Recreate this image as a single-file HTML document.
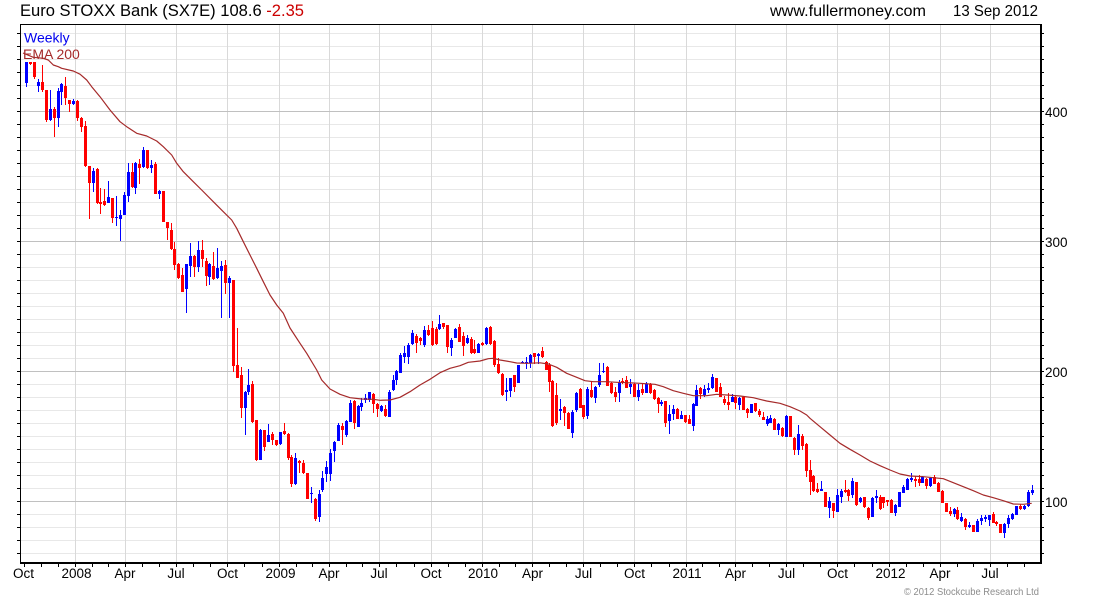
<!DOCTYPE html>
<html><head><meta charset="utf-8"><style>
html,body{margin:0;padding:0;background:#fff;}
svg{display:block;}
text{font-family:"Liberation Sans",Arial,sans-serif;}
</style></head><body>
<svg width="1100" height="600" viewBox="0 0 1100 600" xmlns="http://www.w3.org/2000/svg">
<rect x="0" y="0" width="1100" height="600" fill="#fff"/>
<!-- minor horizontal grid -->
<path fill="none" stroke="#e8e8e8" stroke-width="1" d="M20 553.5H1041M20 540.5H1041M20 527.5H1041M20 514.5H1041M20 488.5H1041M20 475.5H1041M20 462.5H1041M20 449.5H1041M20 436.5H1041M20 423.5H1041M20 410.5H1041M20 397.5H1041M20 384.5H1041M20 358.5H1041M20 345.5H1041M20 332.5H1041M20 319.5H1041M20 306.5H1041M20 293.5H1041M20 280.5H1041M20 267.5H1041M20 254.5H1041M20 228.5H1041M20 215.5H1041M20 202.5H1041M20 189.5H1041M20 176.5H1041M20 163.5H1041M20 150.5H1041M20 137.5H1041M20 124.5H1041M20 98.5H1041M20 85.5H1041M20 72.5H1041M20 59.5H1041M20 46.5H1041M20 33.5H1041"/>
<!-- vertical grid -->
<path fill="none" stroke="#d9d9d9" stroke-width="1" d="M75.5 24V563M125.5 24V563M176.5 24V563M227.5 24V563M279.5 24V563M329.5 24V563M379.5 24V563M431.5 24V563M482.5 24V563M532.5 24V563M583.5 24V563M634.5 24V563M686.5 24V563M735.5 24V563M786.5 24V563M837.5 24V563M889.5 24V563M940.5 24V563M990.5 24V563"/>
<!-- major horizontal grid -->
<path fill="none" stroke="#c0c0c0" stroke-width="1" d="M20 501.5H1041M20 371.5H1041M20 241.5H1041M20 111.5H1041"/>

<!-- candles -->
<path fill="#0000ff" d="M25 62h3v21h-3zM26 62h1v25h-1zM37 82h3v4h-3zM38 79h1v13h-1zM49 109h3v11h-3zM50 90h1v31h-1zM57 91h3v27h-3zM58 88h1v39h-1zM60 84h3v8h-3zM61 83h1v22h-1zM72 101h3v3h-3zM73 99h1v6h-1zM92 171h3v12h-3zM93 168h1v24h-1zM107 197h3v6h-3zM108 181h1v22h-1zM115 217h3v1h-3zM116 196h1v30h-1zM119 215h3v4h-3zM120 210h1v31h-1zM123 195h3v20h-3zM124 192h1v23h-1zM127 172h3v24h-3zM128 163h1v39h-1zM134 163h3v25h-3zM135 162h1v32h-1zM142 150h3v17h-3zM143 147h1v21h-1zM150 165h3v3h-3zM151 160h1v13h-1zM158 191h3v3h-3zM159 190h1v9h-1zM185 264h3v25h-3zM186 264h1v49h-1zM189 256h3v10h-3zM190 243h1v34h-1zM197 250h3v17h-3zM198 241h1v31h-1zM208 264h3v13h-3zM209 263h1v22h-1zM216 268h3v10h-3zM217 248h1v31h-1zM220 266h3v5h-3zM221 261h1v57h-1zM228 278h3v5h-3zM229 276h1v42h-1zM244 392h3v16h-3zM245 391h1v44h-1zM247 385h3v7h-3zM248 369h1v26h-1zM259 430h3v30h-3zM260 429h1v31h-1zM267 435h3v7h-3zM268 424h1v18h-1zM279 432h3v12h-3zM280 432h1v13h-1zM294 458h3v26h-3zM295 453h1v32h-1zM310 493h3v1h-3zM311 487h1v16h-1zM318 494h3v23h-3zM319 490h1v32h-1zM321 478h3v12h-3zM322 471h1v21h-1zM325 467h3v7h-3zM326 461h1v21h-1zM329 453h3v21h-3zM330 449h1v32h-1zM333 442h3v9h-3zM334 441h1v21h-1zM337 425h3v16h-3zM338 423h1v18h-1zM345 421h3v14h-3zM346 420h1v17h-1zM349 403h3v19h-3zM350 400h1v22h-1zM357 406h3v21h-3zM358 405h1v22h-1zM360 403h3v4h-3zM361 398h1v13h-1zM364 398h3v2h-3zM365 394h1v9h-1zM368 392h3v8h-3zM369 392h1v10h-1zM380 406h3v5h-3zM381 405h1v7h-1zM388 392h3v25h-3zM389 390h1v27h-1zM392 380h3v10h-3zM393 375h1v16h-1zM395 371h3v9h-3zM396 370h1v15h-1zM399 355h3v18h-3zM400 353h1v20h-1zM403 353h3v4h-3zM404 346h1v17h-1zM407 345h3v12h-3zM408 343h1v21h-1zM411 333h3v11h-3zM412 330h1v15h-1zM423 330h3v15h-3zM424 326h1v21h-1zM438 324h3v5h-3zM439 315h1v15h-1zM450 340h3v8h-3zM451 338h1v18h-1zM454 329h3v9h-3zM455 328h1v10h-1zM466 338h3v5h-3zM467 335h1v9h-1zM477 344h3v9h-3zM478 343h1v10h-1zM485 328h3v16h-3zM486 327h1v18h-1zM505 390h3v2h-3zM506 378h1v23h-1zM509 378h3v13h-3zM510 378h1v19h-1zM517 365h3v18h-3zM521 362h3v1h-3zM522 361h1v2h-1zM525 362h3v1h-3zM526 357h1v12h-1zM529 355h3v8h-3zM530 354h1v14h-1zM537 354h3v2h-3zM538 353h1v11h-1zM559 409h3v2h-3zM560 399h1v21h-1zM571 412h3v21h-3zM572 410h1v28h-1zM575 393h3v17h-3zM576 392h1v20h-1zM586 389h3v27h-3zM587 387h1v32h-1zM594 387h3v11h-3zM595 386h1v17h-1zM598 375h3v10h-3zM599 363h1v24h-1zM602 371h3v1h-3zM603 363h1v10h-1zM618 382h3v11h-3zM619 380h1v22h-1zM629 384h3v3h-3zM630 379h1v15h-1zM637 390h3v7h-3zM638 384h1v17h-1zM645 384h3v9h-3zM646 382h1v11h-1zM660 402h3v2h-3zM661 400h1v6h-1zM668 414h3v7h-3zM669 405h1v29h-1zM672 409h3v5h-3zM673 405h1v15h-1zM680 415h3v4h-3zM681 411h1v8h-1zM692 404h3v22h-3zM693 403h1v28h-1zM695 390h3v16h-3zM696 385h1v21h-1zM703 389h3v6h-3zM704 385h1v12h-1zM707 388h3v2h-3zM708 383h1v10h-1zM711 377h3v11h-3zM712 374h1v15h-1zM731 397h3v5h-3zM732 394h1v8h-1zM738 398h3v7h-3zM739 397h1v13h-1zM750 404h3v9h-3zM766 419h3v5h-3zM767 416h1v10h-1zM769 418h3v5h-3zM770 415h1v8h-1zM777 424h3v6h-3zM778 423h1v12h-1zM785 416h3v21h-3zM786 415h1v22h-1zM797 434h3v16h-3zM798 425h1v30h-1zM820 489h3v2h-3zM821 481h1v10h-1zM828 501h3v7h-3zM829 497h1v21h-1zM836 495h3v17h-3zM837 489h1v23h-1zM840 491h3v6h-3zM841 489h1v14h-1zM851 481h3v14h-3zM852 478h1v20h-1zM859 498h3v4h-3zM860 497h1v6h-1zM871 498h3v19h-3zM872 497h1v20h-1zM875 496h3v2h-3zM876 490h1v13h-1zM894 505h3v8h-3zM895 504h1v12h-1zM898 492h3v15h-3zM902 487h3v6h-3zM903 485h1v8h-1zM906 479h3v11h-3zM907 478h1v12h-1zM910 478h3v2h-3zM911 473h1v9h-1zM921 477h3v6h-3zM922 476h1v7h-1zM929 478h3v8h-3zM930 477h1v10h-1zM953 509h3v5h-3zM954 508h1v9h-1zM960 517h3v4h-3zM961 513h1v9h-1zM968 525h3v2h-3zM969 522h1v6h-1zM976 521h3v11h-3zM977 519h1v13h-1zM980 518h3v3h-3zM981 515h1v10h-1zM984 517h3v2h-3zM985 515h1v7h-1zM988 515h3v5h-3zM989 515h1v11h-1zM1003 524h3v9h-3zM1004 523h1v15h-1zM1007 518h3v6h-3zM1008 515h1v13h-1zM1011 514h3v5h-3zM1012 513h1v7h-1zM1015 506h3v9h-3zM1023 506h3v3h-3zM1024 505h1v5h-1zM1027 492h3v14h-3zM1028 490h1v17h-1zM1031 490h3v3h-3zM1032 485h1v10h-1z"/>
<path fill="#ff0000" d="M29 62h3v2h-3zM30 62h1v3h-1zM33 62h3v15h-3zM34 62h1v17h-1zM41 82h3v8h-3zM42 65h1v27h-1zM45 90h3v30h-3zM46 90h1v32h-1zM53 109h3v9h-3zM54 107h1v30h-1zM64 86h3v12h-3zM65 77h1v28h-1zM68 100h3v4h-3zM69 100h1v12h-1zM76 101h3v17h-3zM77 100h1v21h-1zM80 118h3v9h-3zM81 117h1v15h-1zM84 126h3v40h-3zM85 121h1v46h-1zM88 166h3v17h-3zM89 166h1v53h-1zM96 169h3v34h-3zM97 168h1v36h-1zM99 202h3v2h-3zM100 188h1v26h-1zM103 201h3v4h-3zM104 189h1v17h-1zM111 198h3v20h-3zM112 198h1v25h-1zM131 172h3v15h-3zM132 163h1v25h-1zM138 164h3v4h-3zM139 159h1v25h-1zM146 150h3v18h-3zM147 150h1v19h-1zM154 164h3v30h-3zM155 162h1v32h-1zM162 191h3v31h-3zM166 222h3v6h-3zM167 222h1v18h-1zM170 230h3v19h-3zM171 223h1v27h-1zM173 249h3v16h-3zM174 242h1v28h-1zM177 264h3v14h-3zM178 263h1v16h-1zM181 275h3v17h-3zM182 268h1v24h-1zM193 256h3v11h-3zM194 255h1v22h-1zM201 250h3v9h-3zM202 240h1v27h-1zM205 261h3v15h-3zM206 258h1v28h-1zM212 266h3v13h-3zM213 252h1v28h-1zM224 265h3v18h-3zM225 260h1v34h-1zM232 280h3v86h-3zM233 280h1v92h-1zM236 365h3v13h-3zM237 328h1v50h-1zM240 375h3v33h-3zM241 367h1v51h-1zM251 384h3v38h-3zM252 381h1v42h-1zM255 420h3v40h-3zM256 420h1v41h-1zM263 430h3v17h-3zM264 430h1v21h-1zM271 434h3v6h-3zM272 432h1v13h-1zM275 440h3v5h-3zM276 440h1v6h-1zM283 431h3v3h-3zM284 423h1v12h-1zM287 434h3v24h-3zM288 433h1v27h-1zM290 457h3v27h-3zM291 455h1v32h-1zM298 461h3v2h-3zM299 460h1v13h-1zM302 463h3v10h-3zM303 460h1v14h-1zM306 473h3v26h-3zM314 499h3v20h-3zM315 498h1v23h-1zM341 426h3v4h-3zM342 423h1v22h-1zM353 401h3v22h-3zM354 400h1v29h-1zM372 394h3v10h-3zM373 393h1v20h-1zM376 404h3v5h-3zM377 403h1v14h-1zM384 409h3v7h-3zM385 405h1v12h-1zM415 336h3v7h-3zM416 334h1v19h-1zM419 338h3v3h-3zM420 337h1v8h-1zM427 330h3v5h-3zM428 325h1v11h-1zM431 328h3v17h-3zM432 321h1v25h-1zM435 329h3v15h-3zM436 327h1v18h-1zM442 323h3v4h-3zM443 323h1v6h-1zM446 325h3v22h-3zM447 325h1v28h-1zM458 327h3v15h-3zM459 324h1v18h-1zM462 336h3v10h-3zM463 332h1v24h-1zM470 339h3v14h-3zM471 337h1v17h-1zM473 349h3v4h-3zM474 340h1v14h-1zM481 343h3v2h-3zM482 342h1v4h-1zM489 327h3v17h-3zM490 326h1v19h-1zM493 341h3v24h-3zM494 340h1v27h-1zM497 364h3v9h-3zM498 358h1v16h-1zM501 374h3v21h-3zM502 373h1v23h-1zM513 375h3v12h-3zM514 375h1v17h-1zM533 353h3v4h-3zM534 353h1v11h-1zM541 351h3v6h-3zM542 347h1v11h-1zM545 362h3v8h-3zM546 361h1v9h-1zM548 365h3v17h-3zM549 363h1v29h-1zM551 381h3v45h-3zM552 380h1v47h-1zM555 395h3v28h-3zM556 383h1v42h-1zM563 407h3v6h-3zM564 406h1v20h-1zM567 413h3v16h-3zM568 412h1v17h-1zM579 389h3v19h-3zM580 388h1v20h-1zM582 405h3v12h-3zM583 405h1v14h-1zM590 390h3v7h-3zM591 382h1v16h-1zM606 367h3v19h-3zM607 366h1v20h-1zM610 383h3v10h-3zM611 382h1v12h-1zM614 392h3v5h-3zM615 387h1v15h-1zM621 381h3v2h-3zM622 378h1v6h-1zM625 380h3v8h-3zM626 376h1v12h-1zM633 384h3v13h-3zM634 383h1v14h-1zM641 389h3v4h-3zM642 384h1v11h-1zM649 384h3v9h-3zM650 383h1v11h-1zM653 390h3v9h-3zM654 389h1v11h-1zM657 398h3v6h-3zM658 397h1v16h-1zM664 401h3v22h-3zM665 401h1v26h-1zM676 409h3v10h-3zM677 408h1v11h-1zM684 415h3v7h-3zM685 415h1v8h-1zM688 419h3v5h-3zM689 415h1v9h-1zM699 388h3v6h-3zM700 387h1v12h-1zM715 378h3v14h-3zM719 387h3v10h-3zM720 383h1v14h-1zM723 399h3v4h-3zM724 396h1v9h-1zM727 402h3v3h-3zM728 393h1v17h-1zM734 397h3v6h-3zM735 395h1v14h-1zM742 397h3v13h-3zM743 396h1v14h-1zM746 409h3v4h-3zM747 408h1v10h-1zM754 403h3v8h-3zM755 403h1v9h-1zM758 411h3v4h-3zM759 409h1v8h-1zM762 417h3v3h-3zM763 412h1v8h-1zM773 419h3v11h-3zM774 418h1v12h-1zM781 428h3v8h-3zM782 427h1v10h-1zM789 416h3v21h-3zM793 438h3v12h-3zM794 437h1v18h-1zM801 436h3v10h-3zM802 434h1v16h-1zM805 444h3v27h-3zM806 443h1v34h-1zM809 470h3v12h-3zM810 460h1v35h-1zM812 476h3v15h-3zM813 475h1v17h-1zM816 489h3v3h-3zM817 483h1v10h-1zM824 492h3v15h-3zM832 503h3v8h-3zM833 503h1v15h-1zM844 490h3v2h-3zM845 480h1v13h-1zM847 490h3v6h-3zM848 489h1v12h-1zM855 482h3v23h-3zM856 482h1v24h-1zM863 497h3v10h-3zM864 497h1v11h-1zM867 508h3v10h-3zM868 507h1v13h-1zM879 497h3v12h-3zM880 495h1v15h-1zM882 497h3v6h-3zM883 497h1v11h-1zM886 500h3v2h-3zM887 500h1v6h-1zM890 500h3v13h-3zM891 499h1v14h-1zM914 479h3v2h-3zM915 476h1v11h-1zM918 479h3v4h-3zM919 475h1v11h-1zM925 479h3v7h-3zM926 478h1v11h-1zM933 477h3v7h-3zM934 475h1v9h-1zM937 483h3v9h-3zM938 482h1v10h-1zM941 491h3v12h-3zM942 490h1v13h-1zM945 503h3v9h-3zM949 511h3v3h-3zM950 507h1v9h-1zM956 510h3v9h-3zM957 507h1v13h-1zM964 519h3v8h-3zM965 518h1v12h-1zM972 525h3v7h-3zM992 514h3v9h-3zM993 512h1v11h-1zM995 522h3v2h-3zM996 521h1v5h-1zM999 524h3v9h-3zM1019 506h3v3h-3zM1020 504h1v6h-1z"/>

<!-- EMA 200 -->
<polyline fill="none" stroke="#a52a2a" stroke-width="1.2" stroke-linejoin="round" points="23,53 33.3,57.3 43.3,58.3 48.3,60 53.3,65 58.3,66.7 61.7,68.3 73.3,71 80,74.2 86.7,80 91.7,86.7 100,96.7 110,110 120,121.7 126.7,126.7 136.7,133.3 146.7,136 156.7,141 163.3,146.7 171.7,155 176.7,163.3 183.3,171.7 193.3,181.7 201.7,190 213.3,201.7 223.3,211.7 231.7,220 236.7,228.3 243.3,241.7 250,255 256.7,268.3 263.3,281.7 270,295 276.7,305 283.3,313.3 290,328 300,343.3 306.7,353.3 316.7,370 321.7,380 330,389 340,394.3 350,397.7 361.7,399 373.3,399.3 380,400.3 390,400 400,397.3 410,391.7 420,385 430,379.3 440,372.7 450,368.3 460,365.7 468.3,362.3 480,361 488.3,358.7 493.3,358.3 500,360 510,361.7 516.7,363 526.7,363.3 540,362.8 548.3,364 556.7,367.3 566.7,373.3 576.7,377.3 585,380.7 593.3,381.7 606.7,381.7 616.7,382.3 626.7,382.7 640,383.3 655,384.3 663.3,386.7 673.3,390.7 683.3,393.3 693.3,395.7 706.7,395.7 716.7,394.3 726.7,395 740,396 753.3,397.7 766.7,401 780,403.3 790,406.7 800,411 806.7,415 810,418.3 820,426.7 830,435 840,443.3 850,449.3 860,455 870,461 880,465.7 890,470 900,474 910,476 923.3,476.7 933.3,477.7 943.3,478.7 953.3,482.7 963.3,486.7 973.3,490.7 983.3,495 993.3,497.7 1003.3,500.7 1013.3,504 1023.3,504.3 1031.7,503.3"/>

<!-- frame -->
<path fill="none" stroke="#000" stroke-width="1" d="M20 24.5H1041M20.5 24V564"/>
<path fill="none" stroke="#000" stroke-width="2" d="M20 563H1042M1041 24V564"/>
<!-- y ticks left & right -->
<path fill="none" stroke="#000" stroke-width="1" d="M17 553.5h3M17 540.5h3M17 527.5h3M17 514.5h3M17 501.5h3M17 488.5h3M17 475.5h3M17 462.5h3M17 449.5h3M17 436.5h3M17 423.5h3M17 410.5h3M17 397.5h3M17 384.5h3M17 371.5h3M17 358.5h3M17 345.5h3M17 332.5h3M17 319.5h3M17 306.5h3M17 293.5h3M17 280.5h3M17 267.5h3M17 254.5h3M17 241.5h3M17 228.5h3M17 215.5h3M17 202.5h3M17 189.5h3M17 176.5h3M17 163.5h3M17 150.5h3M17 137.5h3M17 124.5h3M17 111.5h3M17 98.5h3M17 85.5h3M17 72.5h3M17 59.5h3M17 46.5h3M17 33.5h3
M1041 553.5h3M1041 540.5h3M1041 527.5h3M1041 514.5h3M1041 501.5h3M1041 488.5h3M1041 475.5h3M1041 462.5h3M1041 449.5h3M1041 436.5h3M1041 423.5h3M1041 410.5h3M1041 397.5h3M1041 384.5h3M1041 371.5h3M1041 358.5h3M1041 345.5h3M1041 332.5h3M1041 319.5h3M1041 306.5h3M1041 293.5h3M1041 280.5h3M1041 267.5h3M1041 254.5h3M1041 241.5h3M1041 228.5h3M1041 215.5h3M1041 202.5h3M1041 189.5h3M1041 176.5h3M1041 163.5h3M1041 150.5h3M1041 137.5h3M1041 124.5h3M1041 111.5h3M1041 98.5h3M1041 85.5h3M1041 72.5h3M1041 59.5h3M1041 46.5h3M1041 33.5h3"/>
<!-- x ticks -->
<path fill="none" stroke="#000" stroke-width="1" d="M24.5 563v4M41.5 563v4M58.5 563v4M75.5 563v4M92.5 563v4M108.5 563v4M125.5 563v4M142.5 563v4M159.5 563v4M176.5 563v4M193.5 563v4M210.5 563v4M227.5 563v4M244.5 563v4M262.5 563v4M279.5 563v4M296.5 563v4M312.5 563v4M329.5 563v4M346.5 563v4M362.5 563v4M379.5 563v4M396.5 563v4M414.5 563v4M431.5 563v4M448.5 563v4M465.5 563v4M482.5 563v4M499.5 563v4M515.5 563v4M532.5 563v4M549.5 563v4M566.5 563v4M583.5 563v4M600.5 563v4M617.5 563v4M634.5 563v4M651.5 563v4M669.5 563v4M686.5 563v4M702.5 563v4M719.5 563v4M735.5 563v4M752.5 563v4M769.5 563v4M786.5 563v4M803.5 563v4M820.5 563v4M837.5 563v4M854.5 563v4M872.5 563v4M889.5 563v4M906.5 563v4M923.5 563v4M940.5 563v4M957.5 563v4M973.5 563v4M990.5 563v4M1007.5 563v4M1024.5 563v4"/>

<!-- header -->
<text x="20" y="16" font-size="16.3" fill="#000" textLength="284" lengthAdjust="spacingAndGlyphs">Euro STOXX Bank (SX7E) 108.6 <tspan fill="#cc0000">-2.35</tspan></text>
<text x="770" y="16" font-size="16" fill="#000" textLength="156" lengthAdjust="spacingAndGlyphs">www.fullermoney.com</text>
<text x="953" y="16" font-size="16" fill="#000" textLength="85" lengthAdjust="spacingAndGlyphs">13 Sep 2012</text>

<!-- legend -->
<text x="24" y="42.5" font-size="14" fill="#0000ee">Weekly</text>
<text x="23" y="59" font-size="14" fill="#a52a2a">EMA 200</text>

<!-- right axis labels -->
<g font-size="13.5" fill="#000">
<text x="1045" y="117">400</text>
<text x="1045" y="247">300</text>
<text x="1045" y="377">200</text>
<text x="1045" y="507">100</text>
</g>

<!-- bottom axis labels -->
<g font-size="13.5" fill="#000" text-anchor="middle">
<text x="23.5" y="578">Oct</text>
<text x="76.5" y="578">2008</text>
<text x="125" y="578">Apr</text>
<text x="176" y="578">Jul</text>
<text x="227.5" y="578">Oct</text>
<text x="280.5" y="578">2009</text>
<text x="329" y="578">Apr</text>
<text x="379" y="578">Jul</text>
<text x="431" y="578">Oct</text>
<text x="483" y="578">2010</text>
<text x="532.5" y="578">Apr</text>
<text x="583.5" y="578">Jul</text>
<text x="634.5" y="578">Oct</text>
<text x="687" y="578">2011</text>
<text x="735.5" y="578">Apr</text>
<text x="786.5" y="578">Jul</text>
<text x="837.5" y="578">Oct</text>
<text x="890.5" y="578">2012</text>
<text x="940" y="578">Apr</text>
<text x="990" y="578">Jul</text>
</g>

<text x="904" y="595" font-size="10" fill="#8c8c8c" textLength="135" lengthAdjust="spacingAndGlyphs">© 2012 Stockcube Research Ltd</text>
</svg>
</body></html>
